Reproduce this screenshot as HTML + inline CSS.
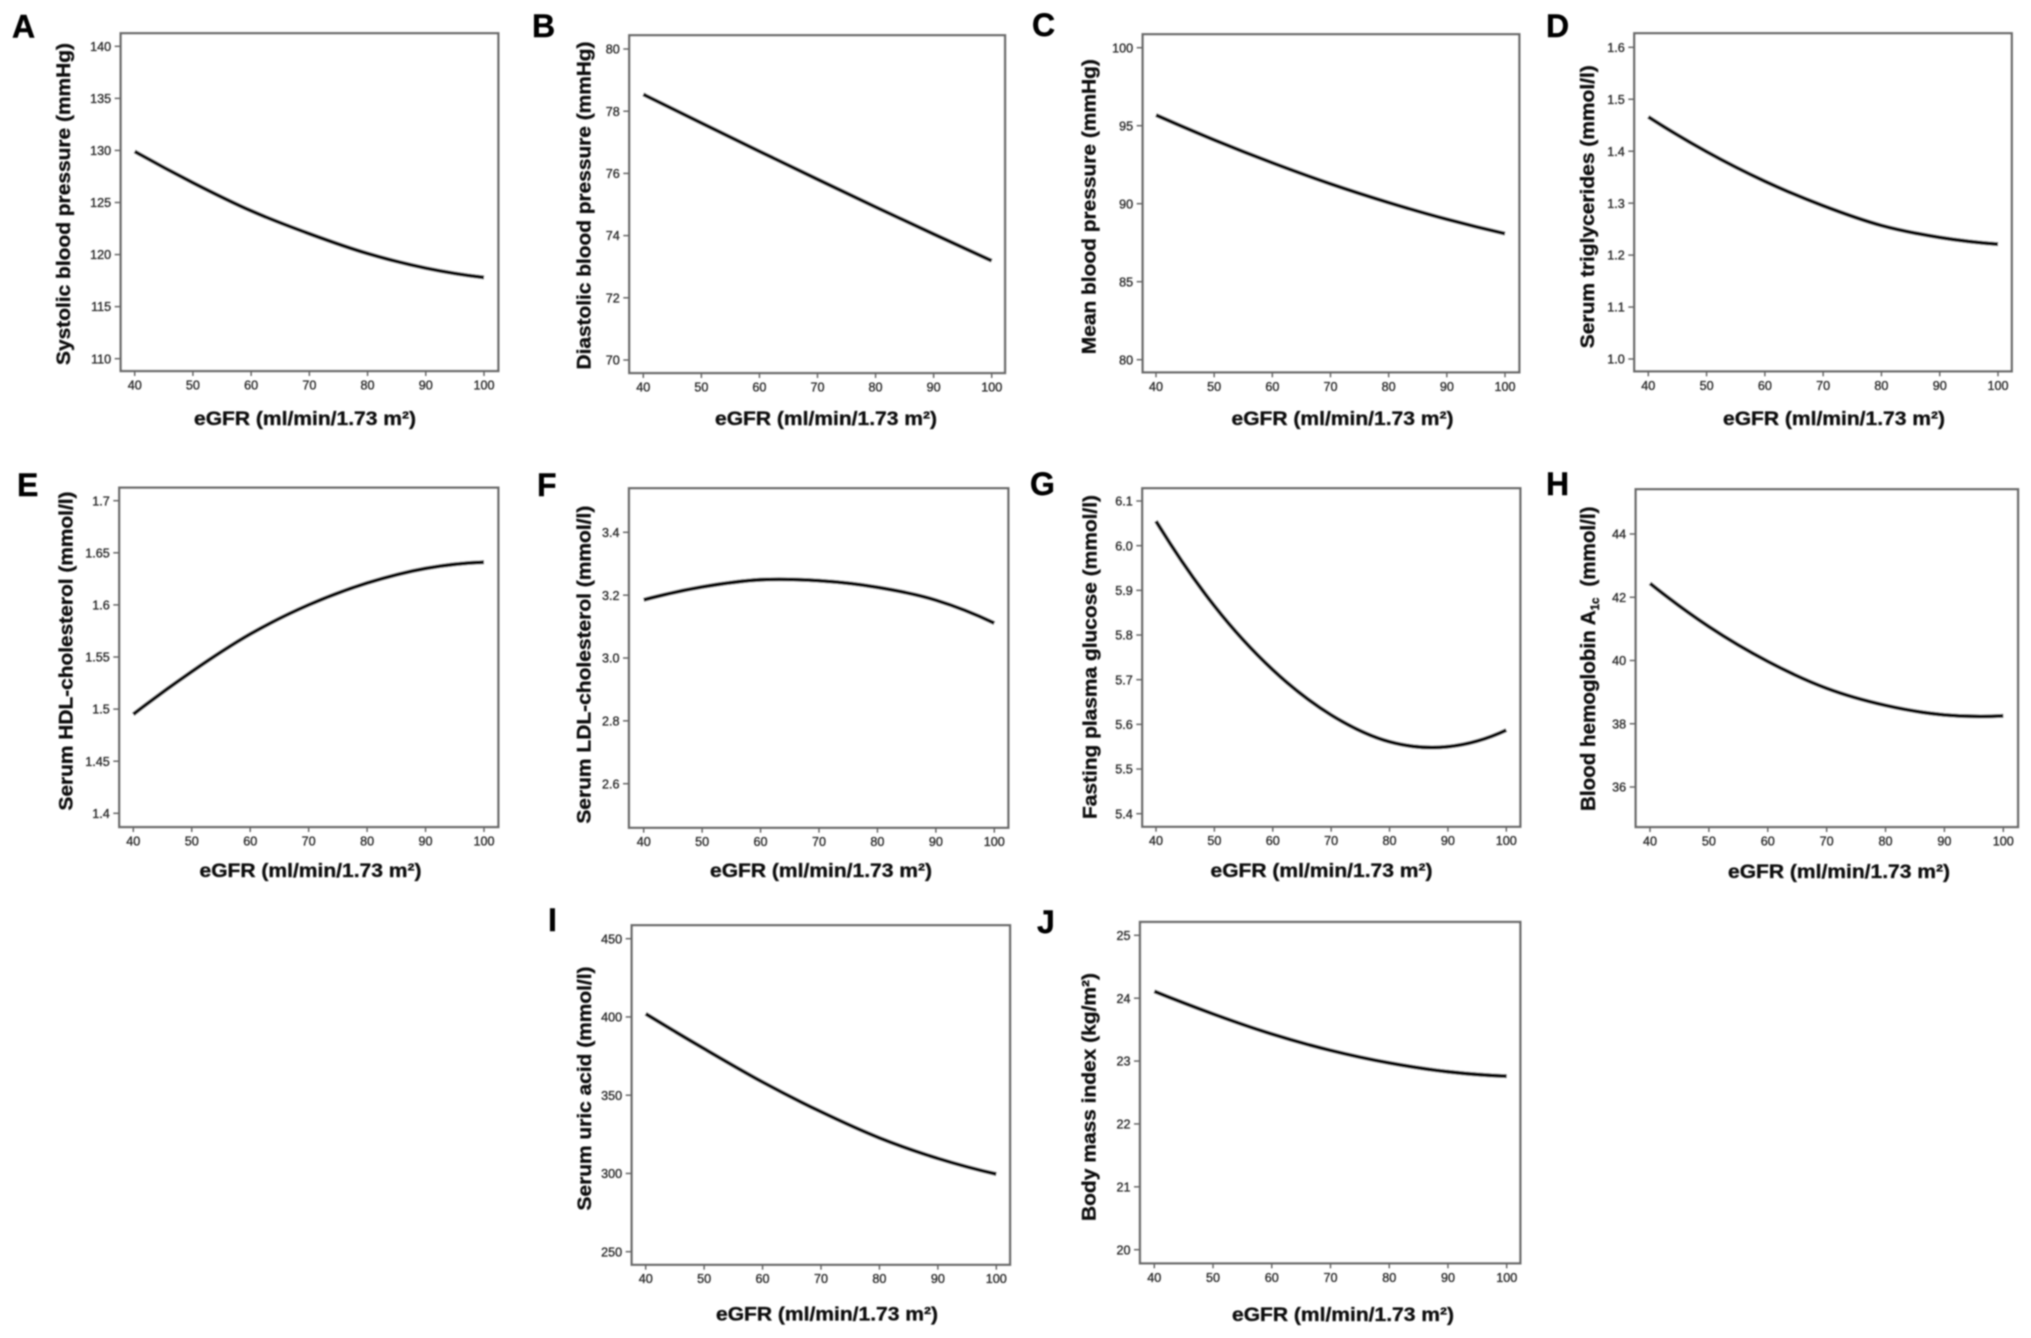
<!DOCTYPE html>
<html lang="en">
<head>
<meta charset="utf-8">
<title>Metabolic measures by eGFR</title>
<style>
  html, body { margin: 0; padding: 0; background: #fff; }
  svg { display: block; font-family: "Liberation Sans", sans-serif; }
</style>
</head>
<body>
<svg id="figure" xmlns="http://www.w3.org/2000/svg" width="2031" height="1338" viewBox="0 0 2031 1338">
  <defs>
    <filter id="soft" x="0" y="0" width="2031" height="1338" filterUnits="userSpaceOnUse">
      <feGaussianBlur stdDeviation="0.85"/>
    </filter>
  </defs>
  <rect x="0" y="0" width="2031" height="1338" fill="#fff"/>
  <g id="root" filter="url(#soft)"></g>
</svg>
<script>
// eGFR categories shared by every panel
const egfrTicks = [40, 50, 60, 70, 80, 90, 100];

// Values at each eGFR tick
const seriesA = [129.9, 126.9, 124.2, 122.0, 120.1, 118.7, 117.8];
const seriesB = [78.54, 77.62, 76.71, 75.81, 74.92, 74.05, 73.19];
const seriesC = [95.68, 94.09, 92.62, 91.27, 90.07, 89.0, 88.08];
const seriesD = [1.466, 1.399, 1.342, 1.295, 1.257, 1.234, 1.221];
const seriesE = [1.495, 1.536, 1.572, 1.600, 1.621, 1.635, 1.641];
const seriesF = [3.185, 3.226, 3.249, 3.246, 3.225, 3.184, 3.111];
const seriesG = [6.055, 5.865, 5.722, 5.621, 5.561, 5.55, 5.587];
const seriesH = [42.44, 41.07, 39.97, 39.12, 38.58, 38.28, 38.25];
const seriesI = [402, 379.7, 358.4, 339.4, 322.7, 309.6, 299.6];
const seriesJ = [24.11, 23.75, 23.43, 23.17, 22.97, 22.83, 22.76];

// Y tick labels
const yTicksA = ["110", "115", "120", "125", "130", "135", "140"];
const yTicksB = ["70", "72", "74", "76", "78", "80"];
const yTicksC = ["80", "85", "90", "95", "100"];
const yTicksD = ["1.0", "1.1", "1.2", "1.3", "1.4", "1.5", "1.6"];
const yTicksE = ["1.4", "1.45", "1.5", "1.55", "1.6", "1.65", "1.7"];
const yTicksF = ["2.6", "2.8", "3.0", "3.2", "3.4"];
const yTicksG = ["5.4", "5.5", "5.6", "5.7", "5.8", "5.9", "6.0", "6.1"];
const yTicksH = ["36", "38", "40", "42", "44"];
const yTicksI = ["250", "300", "350", "400", "450"];
const yTicksJ = ["20", "21", "22", "23", "24", "25"];

// Axis titles
const xTitleText = "eGFR (ml/min/1.73 m²)";
const yTitleA = "Systolic blood pressure (mmHg)";
const yTitleB = "Diastolic blood pressure (mmHg)";
const yTitleC = "Mean blood pressure (mmHg)";
const yTitleD = "Serum triglycerides (mmol/l)";
const yTitleE = "Serum HDL-cholesterol (mmol/l)";
const yTitleF = "Serum LDL-cholesterol (mmol/l)";
const yTitleG = "Fasting plasma glucose (mmol/l)";
const yTitleI = "Serum uric acid (mmol/l)";
const yTitleJ = "Body mass index (kg/m²)";

// Panel geometry, kept separate from the data
const panels = [
  { id: "A", series: seriesA, ticks: yTicksA, title: yTitleA, box: [120.7, 33.3, 498.3, 371], xr: [134.7, 484], yr: [358.7, 46.3], letter: [12, 37.7], yt: [70, 204, 322], xt: [305, 425] },
  { id: "B", series: seriesB, ticks: yTicksB, title: yTitleB, box: [629.3, 35.3, 1005, 373], xr: [643.3, 991.7], yr: [360, 49], letter: [532, 37], yt: [590.7, 205.5, 328], xt: [826, 425] },
  { id: "C", series: seriesC, ticks: yTicksC, title: yTitleC, box: [1142.7, 34.3, 1519.3, 372.3], xr: [1156, 1505], yr: [359.7, 47.7], letter: [1032, 36], yt: [1095.7, 206.7, 295], xt: [1342.5, 425] },
  { id: "D", series: seriesD, ticks: yTicksD, title: yTitleD, box: [1634.3, 33.3, 2011.7, 371.3], xr: [1648.3, 1998], yr: [359, 47.3], letter: [1546, 37], yt: [1594, 206.7, 283], xt: [1834, 425] },
  { id: "E", series: seriesE, ticks: yTicksE, title: yTitleE, box: [119.3, 487.7, 498.3, 827], xr: [133.3, 484], yr: [813.3, 500.7], letter: [17, 496], yt: [72.3, 651, 319], xt: [310.5, 877] },
  { id: "F", series: seriesF, ticks: yTicksF, title: yTitleF, box: [629, 488.3, 1008.3, 827.7], xr: [643.7, 994.3], yr: [783.7, 532.3], letter: [537, 496], yt: [590.7, 664.7, 318], xt: [821, 877] },
  { id: "G", series: seriesG, ticks: yTicksG, title: yTitleG, box: [1142.3, 488.3, 1520.3, 826.7], xr: [1156, 1506.3], yr: [813.7, 501], letter: [1030, 495], yt: [1096.7, 657, 324], xt: [1321.5, 877] },
  { id: "H", series: seriesH, ticks: yTicksH, title: null, box: [1635.7, 489.3, 2018, 827], xr: [1650, 2003.3], yr: [787, 534], letter: [1546, 495], yt: [1595, 811, 305], xt: [1839, 878] },
  { id: "I", series: seriesI, ticks: yTicksI, title: yTitleI, box: [631.7, 925.3, 1010, 1264.7], xr: [645.7, 996.3], yr: [1251.7, 938.7], letter: [548, 931], yt: [591, 1088.5, 244], xt: [827, 1320.7] },
  { id: "J", series: seriesJ, ticks: yTicksJ, title: yTitleJ, box: [1140, 922, 1520.3, 1263.3], xr: [1154.3, 1506.7], yr: [1249.7, 935.3], letter: [1037, 933], yt: [1095.7, 1097, 248], xt: [1343, 1321] }
];

const NS = "http://www.w3.org/2000/svg";
const root = document.getElementById("root");

function svgEl(tag, attrs, parent) {
  const node = document.createElementNS(NS, tag);
  for (const key in attrs) node.setAttribute(key, attrs[key]);
  parent.appendChild(node);
  return node;
}

function linearScale(domainLo, domainHi, rangeLo, rangeHi) {
  return function (v) {
    return rangeLo + (v - domainLo) / (domainHi - domainLo) * (rangeHi - rangeLo);
  };
}

// Smooth path through the plotted points (Catmull-Rom to cubic Bezier,
// with phantom end points extrapolated so the curve does not kink at its ends)
function smoothPath(pts) {
  const n = pts.length;
  const before = [3 * pts[0][0] - 3 * pts[1][0] + pts[2][0], 3 * pts[0][1] - 3 * pts[1][1] + pts[2][1]];
  const after = [3 * pts[n - 1][0] - 3 * pts[n - 2][0] + pts[n - 3][0], 3 * pts[n - 1][1] - 3 * pts[n - 2][1] + pts[n - 3][1]];
  let d = "M" + pts[0][0].toFixed(2) + " " + pts[0][1].toFixed(2);
  for (let i = 0; i < n - 1; i++) {
    const p0 = i === 0 ? before : pts[i - 1];
    const p1 = pts[i];
    const p2 = pts[i + 1];
    const p3 = i === n - 2 ? after : pts[i + 2];
    const c1x = p1[0] + (p2[0] - p0[0]) / 6;
    const c1y = p1[1] + (p2[1] - p0[1]) / 6;
    const c2x = p2[0] - (p3[0] - p1[0]) / 6;
    const c2y = p2[1] - (p3[1] - p1[1]) / 6;
    d += "C" + c1x.toFixed(2) + " " + c1y.toFixed(2) + " " + c2x.toFixed(2) + " " + c2y.toFixed(2) + " " + p2[0].toFixed(2) + " " + p2[1].toFixed(2);
  }
  return d;
}

panels.forEach(function (p) {
  const key = p.id.toLowerCase();
  const g = svgEl("g", {}, root);
  
  

  const letter = svgEl("text", { x: p.letter[0], y: p.letter[1], "font-size": 32, "font-weight": "bold", fill: "#000", stroke: "#000", "stroke-width": 0.4 }, g);
  letter.textContent = p.id;
  
  

  const firstX = egfrTicks[0];
  const lastX = egfrTicks[egfrTicks.length - 1];
  const firstY = Number(p.ticks[0]);
  const lastY = Number(p.ticks[p.ticks.length - 1]);
  const xScale = linearScale(firstX, lastX, p.xr[0], p.xr[1]);
  const yScale = linearScale(firstY, lastY, p.yr[0], p.yr[1]);

  const frame = svgEl("rect", { x: p.box[0], y: p.box[1], width: p.box[2] - p.box[0], height: p.box[3] - p.box[1], fill: "#fff", stroke: "#6c6c6c", "stroke-width": 2.4 }, g);
  
  

  egfrTicks.forEach(function (t) {
    const px = xScale(t);
    const tick = svgEl("line", { x1: px, x2: px, y1: p.box[3], y2: p.box[3] + 5, stroke: "#666", "stroke-width": 1.5 }, g);
    
    
    const label = svgEl("text", { x: px, y: p.box[3] + 18.5, "font-size": 12.6, "text-anchor": "middle", fill: "#2a2a2a", stroke: "#2a2a2a", "stroke-width": 0.35 }, g);
    label.textContent = String(t);
    
    
  });

  p.ticks.forEach(function (t) {
    const py = yScale(Number(t));
    const tick = svgEl("line", { x1: p.box[0] - 6, x2: p.box[0], y1: py, y2: py, stroke: "#666", "stroke-width": 1.5 }, g);
    
    
    const label = svgEl("text", { x: p.box[0] - 9.5, y: py + 4.6, "font-size": 12.6, "text-anchor": "end", fill: "#2a2a2a", stroke: "#2a2a2a", "stroke-width": 0.35 }, g);
    label.textContent = t;
    
    
  });

  const points = p.series.map(function (v, i) { return [xScale(egfrTicks[i]), yScale(v)]; });
  const curve = svgEl("path", { d: smoothPath(points), fill: "none", stroke: "#0c0c0c", "stroke-width": 3.9 }, g);
  
  

  const xTitle = svgEl("text", { x: p.xt[0], y: p.xt[1], "font-size": 19.4, "font-weight": "bold", "text-anchor": "middle", fill: "#111", stroke: "#111", "stroke-width": 0.35, textLength: 222, lengthAdjust: "spacingAndGlyphs" }, g);
  xTitle.textContent = xTitleText;
  
  

  const yAttrs = { transform: "translate(" + p.yt[0] + " " + p.yt[1] + ") rotate(-90)", x: 0, y: 0, "font-size": 19.4, "font-weight": "bold", "text-anchor": p.title ? "middle" : "start", fill: "#111", stroke: "#111", "stroke-width": 0.35 };
  const yTitle = svgEl("text", yAttrs, g);
  if (p.title) {
    yTitle.textContent = p.title;
    yTitle.setAttribute("textLength", p.yt[2]);
    yTitle.setAttribute("lengthAdjust", "spacingAndGlyphs");
  } else {
    const main = svgEl("tspan", { "font-size": 20.6 }, yTitle);
    main.textContent = "Blood hemoglobin A";
    const sub = svgEl("tspan", { "font-size": 11.5, dy: 4 }, yTitle);
    sub.textContent = "1c";
    const unit = svgEl("tspan", { "font-size": 20.6, dy: -4, dx: 11 }, yTitle);
    unit.textContent = "(mmol/l)";
  }
  
  
});
</script>
</body>
</html>
